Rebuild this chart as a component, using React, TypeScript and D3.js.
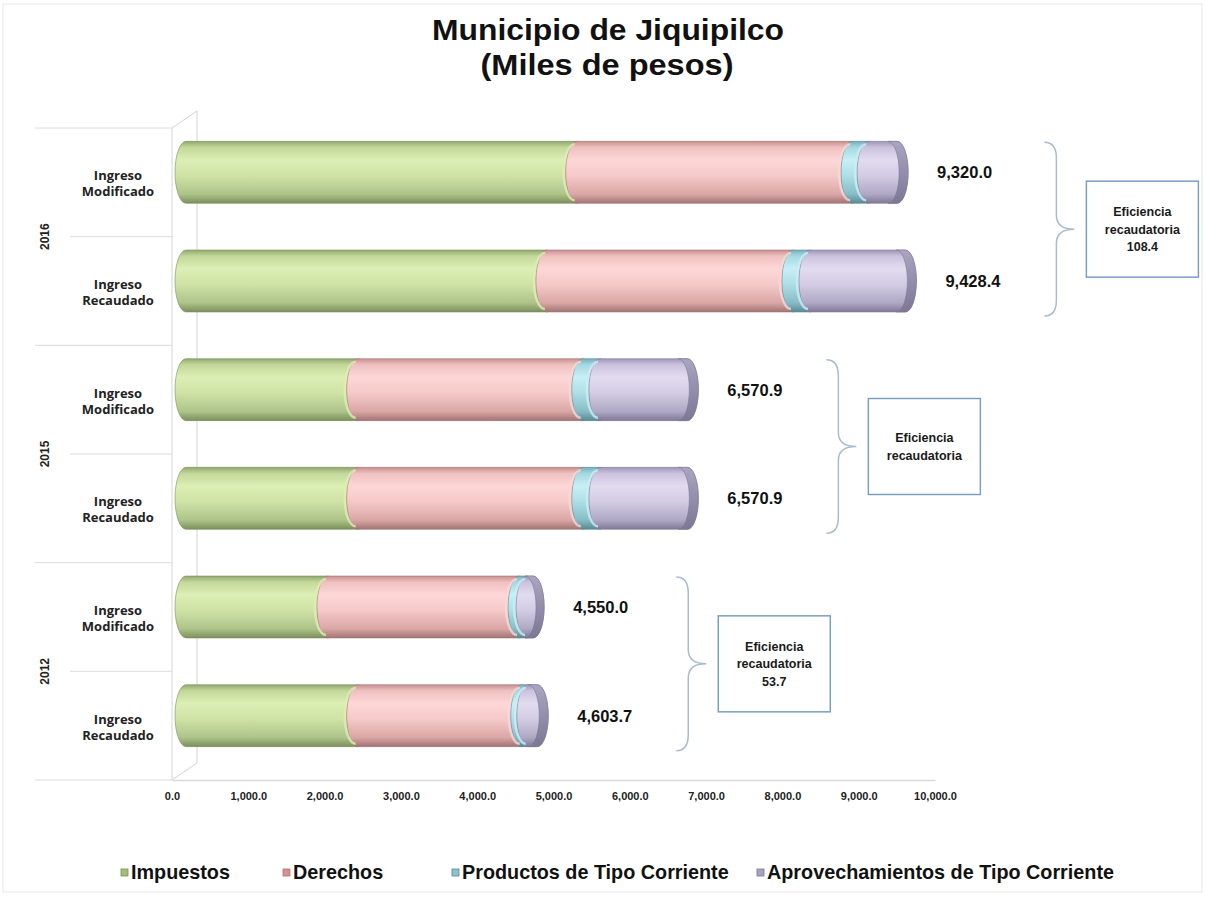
import React from 'react'
import { useRef, useEffect } from 'react'
import * as d3 from 'd3'

// --- data (miles de pesos) ---
const years = ['2016', '2015', '2012']
const rowTypes = ['Ingreso Modificado', 'Ingreso Recaudado']
const seriesNames = ['Impuestos', 'Derechos', 'Productos de Tipo Corriente', 'Aprovechamientos de Tipo Corriente']
const impuestos = [5120, 4730, 2250, 2250, 1860, 2250]
const derechos = [3610, 3225, 2950, 2950, 2505, 2150]
const productos = [210, 223, 225, 225, 105, 80]
const aprovechamientos = [380, 1250.4, 1145.9, 1145.9, 80, 123.7]
const efficiencyText = [
  ['Eficiencia', 'recaudatoria', '108.4'],
  ['Eficiencia', 'recaudatoria'],
  ['Eficiencia', 'recaudatoria', '53.7'],
]
const tickValues = d3.range(0, 10001, 1000)

// cylinder shading per series: stops top -> bottom
const shades = [
  ['#93a86f', '#c3d89a', '#dcefb4', '#cfe3a6', '#aec489', '#7b8f5c'],
  ['#c8908f', '#efc1c0', '#fdd7d6', '#f5cac9', '#d9a7a6', '#a37474'],
  ['#78b0bb', '#a6d8e2', '#c8eff5', '#aedfe8', '#87bcc6', '#588a93'],
  ['#9e97b6', '#cbc3de', '#e2dcf0', '#d3cce4', '#b0a9c6', '#7f7995'],
]
const faceShades = [
  ['#a9bf86', '#93a872', '#7d915f'],
  ['#d6a4a3', '#c08f8e', '#a57a79'],
  ['#92c6cf', '#7aaeb8', '#5f939c'],
  ['#aaa5c0', '#938eab', '#7c7793'],
]
const legendColors = ['#a5bd7a', '#d98f8e', '#8cc2cc', '#a8a1bf']

const W = 1207
const H = 905
const FONT = 'Liberation Sans, Arial, sans-serif'

const rows = years.flatMap(y => rowTypes.map(t => `${y}|${t}`))
const table = rows.map((r, i) => ({
  row: r,
  Impuestos: impuestos[i],
  Derechos: derechos[i],
  'Productos de Tipo Corriente': productos[i],
  'Aprovechamientos de Tipo Corriente': aprovechamientos[i],
}))
const totals = rows.map((_, i) => impuestos[i] + derechos[i] + productos[i] + aprovechamientos[i])
const stacked = d3.stack().keys(seriesNames)(table as any)
const fmt = d3.format(',.1f')

// front plane (axis, category labels) and the bars' plane, shifted by 3D depth
const xAxisScale = d3.scaleLinear().domain([0, 10000]).range([172, 935])
const depthX = 14
const xBar = xAxisScale.copy().range(xAxisScale.range().map(v => v + depthX))
const yFront = d3.scaleBand().domain(rows).range([128, 780])
const yBar = d3.scaleBand().domain(rows).range([118, 770]).paddingInner(0.43).paddingOuter(0.215)
const rx = 11

function segPath(x0: number, x1: number, top: number, bot: number, ry: number) {
  // left edge bulges left, right edge bulges right
  return `M${x0},${top} L${x1},${top} A${rx},${ry} 0 0 1 ${x1},${bot} L${x0},${bot} A${rx},${ry} 0 0 1 ${x0},${top} Z`
}

function facePath(xe: number, f: number, top: number, bot: number, ry: number) {
  return `M${xe - f},${top} L${xe},${top} A${rx},${ry} 0 0 1 ${xe},${bot} L${xe - f},${bot} A${rx},${ry} 0 0 0 ${xe - f},${top} Z`
}

function bracePath(x0: number, y0: number, y1: number) {
  const xm = x0 + 12
  const xt = x0 + 30
  const ym = (y0 + y1) / 2
  return `M${x0},${y0} Q${xm},${y0} ${xm},${y0 + 16} L${xm},${ym - 14} Q${xm},${ym} ${xt},${ym} Q${xm},${ym} ${xm},${ym + 14} L${xm},${y1 - 16} Q${xm},${y1} ${x0},${y1}`
}

function Axis() {
  const ref = useRef<SVGGElement>(null)
  useEffect(() => {
    const g = d3.select(ref.current)
    g.call(
      d3.axisBottom(xAxisScale)
        .tickValues(tickValues)
        .tickFormat(d => fmt(d as number))
        .tickSize(0)
        .tickPadding(12) as any
    )
    g.select('.domain').attr('stroke', '#d9d9d9').attr('stroke-width', 1.5)
    g.selectAll('text')
      .attr('font-family', FONT)
      .attr('font-size', 11)
      .attr('font-weight', 'bold')
      .attr('fill', '#222')
  }, [])
  return <g ref={ref} transform={`translate(0,${yFront.range()[1]})`} />
}

export default function App() {
  const bw = yBar.bandwidth()
  const ry = bw / 2
  const [fTop, fBot] = yFront.range()
  const wallX = 197
  const wallTop = 111
  const wallBot = 763

  return (
    <svg width={W} height={H} style={{ position: 'absolute', left: 0, top: 0, background: '#fff' }}>
      <defs>
        {shades.map((s, k) => (
          <linearGradient key={k} id={`cyl${k}`} x1="0" y1="0" x2="0" y2="1">
            {s.map((c, j) => (
              <stop key={j} offset={[0, 0.1, 0.3, 0.55, 0.85, 1][j]} stopColor={c} />
            ))}
          </linearGradient>
        ))}
        {faceShades.map((s, k) => (
          <linearGradient key={k} id={`face${k}`} x1="0" y1="0" x2="0" y2="1">
            {s.map((c, j) => (
              <stop key={j} offset={j / (s.length - 1)} stopColor={c} />
            ))}
          </linearGradient>
        ))}
      </defs>

      {/* outer frame */}
      <rect x={3} y={4} width={1199} height={888} fill="none" stroke="#e6e6e6" strokeWidth={1} />

      {/* title */}
      <text x={608} y={40} textAnchor="middle" fontFamily={FONT} fontWeight="bold" fontSize={29} textLength={352} lengthAdjust="spacingAndGlyphs" fill="#111">
        Municipio  de Jiquipilco
      </text>
      <text x={607} y={75} textAnchor="middle" fontFamily={FONT} fontWeight="bold" fontSize={29} textLength={253} lengthAdjust="spacingAndGlyphs" fill="#111">
        (Miles de pesos)
      </text>

      {/* side wall */}
      <path
        d={`M${xAxisScale(0)},${fBot} L${xAxisScale(0)},${fTop} L${wallX},${wallTop} L${wallX},${wallBot} L${xAxisScale(0)},${fBot}`}
        fill="none" stroke="#d4d4d4" strokeWidth={1}
      />

      {/* category separators */}
      {d3.range(rows.length + 1).map(i => {
        const y = fTop + i * yFront.step()
        const outer = i % 2 === 0
        return <line key={i} x1={outer ? 35 : 70} x2={xAxisScale(0)} y1={y} y2={y} stroke="#dcdcdc" strokeWidth={1} />
      })}

      {/* category labels */}
      {rows.map(r => {
        const c = (yFront(r) as number) + yFront.bandwidth() / 2
        const words = r.split('|')[1].split(' ')
        return (
          <text key={r} x={118} textAnchor="middle" fontFamily="Open Sans, sans-serif" fontWeight="bold" fontSize={13} fill="#222">
            <tspan x={118} y={c - 2}>{words[0]}</tspan>
            <tspan x={118} y={c + 14}>{words[1]}</tspan>
          </text>
        )
      })}
      {years.map((y, gi) => {
        const c = fTop + (gi * 2 + 1) * yFront.step()
        return (
          <text key={y} transform={`translate(49,${c}) rotate(-90)`} textAnchor="middle" fontFamily={FONT} fontWeight="bold" fontSize={12} fill="#222">
            {y}
          </text>
        )
      })}

      <Axis />

      {/* cylinders */}
      {rows.map((r, ri) => {
        const top = yBar(r) as number
        const bot = top + bw
        const last = stacked.length - 1
        return (
          <g key={r}>
            {stacked.map((s, k) => {
              const x0 = xBar(s[ri][0])
              const x1 = xBar(s[ri][1])
              return (
                <g key={k}>
                  <path d={segPath(x0, x1, top, bot, ry)} fill={`url(#cyl${k})`} stroke={shades[k][5]} strokeWidth={0.6} />
                  {k > 0 && (
                    <path d={`M${x0 - 2},${bot - 3} A${rx},${ry - 3} 0 0 1 ${x0 - 2},${top + 3}`} fill="none" stroke={shades[k - 1][2]} strokeWidth={2.5} opacity={0.8} />
                  )}
                </g>
              )
            })}
            {(() => {
              const xe = xBar(stacked[last][ri][1])
              const f = Math.min(9, xe - xBar(stacked[last][ri][0]) + 2)
              return <path d={facePath(xe, f, top, bot, ry)} fill={`url(#face${last})`} stroke={shades[last][5]} strokeWidth={0.6} />
            })()}
            <text x={xBar(totals[ri]) + 40} y={top + ry + 6} fontFamily={FONT} fontWeight="bold" fontSize={16.5} fill="#111">
              {fmt(totals[ri])}
            </text>
          </g>
        )
      })}

      {/* braces + efficiency boxes */}
      {years.map((y, gi) => {
        const r0 = rows[gi * 2]
        const r1 = rows[gi * 2 + 1]
        const y0 = (yBar(r0) as number) + 1
        const y1 = (yBar(r1) as number) + bw + 4
        const maxTot = Math.max(totals[gi * 2], totals[gi * 2 + 1])
        const bx = xBar(maxTot) + rx + 128
        const ym = (y0 + y1) / 2
        const boxX = bx + 42
        const boxW = 112
        const boxH = 96
        const lines = efficiencyText[gi]
        const lh = 17.5
        return (
          <g key={y}>
            <path d={bracePath(bx, y0, y1)} fill="none" stroke="#a9bccd" strokeWidth={1.5} />
            <rect x={boxX} y={ym - boxH / 2} width={boxW} height={boxH} fill="#fff" stroke="#7d9fbe" strokeWidth={1.5} />
            {lines.map((t, li) => (
              <text key={li} x={boxX + boxW / 2} y={ym + (li - (lines.length - 1) / 2) * lh + 4.5} textAnchor="middle" fontFamily={FONT} fontWeight="bold" fontSize={12.5} fill="#1a1a1a">
                {t}
              </text>
            ))}
          </g>
        )
      })}

      {/* legend */}
      {seriesNames.map((n, k) => {
        const lx = [121, 283, 452, 757][k]
        return (
          <g key={n}>
            <rect x={lx} y={869} width={7} height={7} fill={legendColors[k]} stroke={shades[k][5]} strokeWidth={0.8} />
            <text x={lx + 10} y={879} fontFamily={FONT} fontWeight="bold" fontSize={19.8} fill="#111">
              {n}
            </text>
          </g>
        )
      })}
    </svg>
  )
}
